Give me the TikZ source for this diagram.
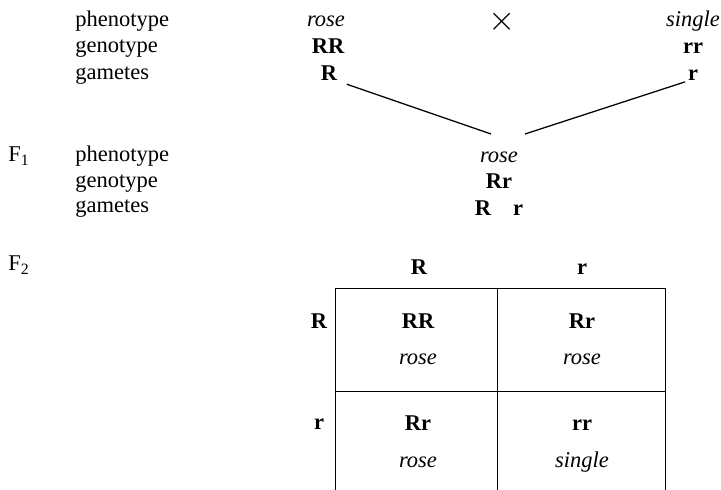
\documentclass[tikz,border=0pt]{standalone}
\usepackage{fontspec}
\setmainfont{Liberation Serif}

\begin{document}
\begin{tikzpicture}[x=0.025cm, y=-0.025cm]
    \tikzstyle{every node}=[inner sep=0pt, anchor=base, font=\fontsize{16}{19}\selectfont]
    \tikzstyle{rowlabel}=[anchor=base west]
    \tikzstyle{pheno}=[font=\fontsize{16}{19}\selectfont\itshape]
    \tikzstyle{geno}=[font=\fontsize{16}{19}\selectfont\bfseries]
    \tikzstyle{cross}=[line width=0.9pt]
    \tikzstyle{grid}=[line width=0.6pt]

    \useasboundingbox (0,0) rectangle (721,490);

% parental generation: rose RR crossed with single rr
    \node[rowlabel] (pPhenoLbl) at (75,27) {phenotype};
    \node[rowlabel] (pGenoLbl) at (75,53) {genotype};
    \node[rowlabel] (pGamLbl) at (75,80) {gametes};
    \node[pheno] (pRose) at (326,27) {rose};
    \node[anchor=center, font=\fontsize{24}{24}\selectfont] (times) at (502,22) {$\times$};
    \node[pheno] (pSingle) at (693,27) {single};
    \node[geno] (pRR) at (328,54) {RR};
    \node[geno] (prr) at (693,54) {rr};
    \node[geno] (pR) at (329,81) {R};
    \node[geno] (pr) at (693,81) {r};
    \coordinate (joinL) at (491,134);
    \coordinate (joinR) at (525,134);
    \draw[cross, shorten <=7pt] (pR.base east) -- (joinL);
    \draw[cross, shorten <=2pt] (pr.base west) -- (joinR);

% F1
    \node[rowlabel] (fOne) at (8,162) {F\textsubscript{1}};
    \node[rowlabel] (fPhenoLbl) at (75,162) {phenotype};
    \node[rowlabel] (fGenoLbl) at (75,188) {genotype};
    \node[rowlabel] (fGamLbl) at (75,213) {gametes};
    \node[pheno] (fRose) at (499,163) {rose};
    \node[geno] (fRr) at (499,189) {Rr};
    \node[geno] (fR) at (483,216) {R};
    \node[geno] (fr) at (518,216) {r};

% F2 Punnett square, open at the bottom
    \node[rowlabel] (fTwo) at (8,271) {F\textsubscript{2}};
    \node[geno] (colR) at (419,275) {R};
    \node[geno] (colr) at (582,275) {r};
    \node[geno] (rowR) at (319,329) {R};
    \node[geno] (rowr) at (319,429) {r};

    \draw[grid] (335,490) -- (335,288) -- (665,288) -- (665,490);
    \draw[grid] (497,288) -- (497,490);
    \draw[grid] (335,391) -- (665,391);

    \node[geno] (cRR) at (418,329) {RR};
    \node[pheno] (cRRp) at (418,365) {rose};
    \node[geno] (cRr) at (582,329) {Rr};
    \node[pheno] (cRrp) at (582,365) {rose};
    \node[geno] (crR) at (418,430) {Rr};
    \node[pheno] (crRp) at (418,467) {rose};
    \node[geno] (crr) at (582,430) {rr};
    \node[pheno] (crrp) at (582,467) {single};
\end{tikzpicture}
\end{document}
